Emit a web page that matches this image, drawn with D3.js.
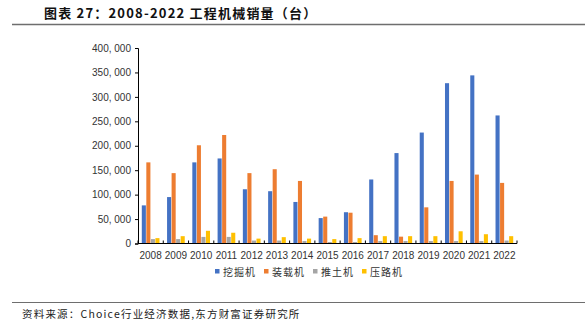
<!DOCTYPE html>
<html>
<head>
<meta charset="utf-8">
<script src="https://cdn.jsdelivr.net/npm/d3@7/dist/d3.min.js"></script>
<style>
  html, body { margin: 0; padding: 0; background: #fff; }
  svg { display: block; }
</style>
</head>
<body>
<svg id="chart" width="585" height="324"></svg>
<script>
// Annual sales of construction machinery, units
const years = ["2008","2009","2010","2011","2012","2013","2014","2015","2016","2017","2018","2019","2020","2021","2022"];
const seriesNames = ["挖掘机", "装载机", "推土机", "压路机"];
const excavator = [78000, 95000, 166000, 174000, 111000, 107000, 85000, 52000, 64000, 131000, 185000, 227000, 328000, 344000, 262000];
const loader    = [166000, 144000, 201000, 222000, 144000, 152000, 128000, 55000, 63000, 17000, 14000, 74000, 128000, 141000, 124000];
const dozer     = [9000, 9000, 13500, 13500, 6000, 6000, 5000, 3000, 3000, 5000, 5000, 5000, 5000, 5000, 6000];
const roller    = [11000, 15000, 26000, 22000, 10000, 13000, 10000, 9000, 11000, 15000, 15000, 15000, 25000, 19000, 15000];
const yTicks = [0, 50000, 100000, 150000, 200000, 250000, 300000, 350000, 400000];
const colors = ["#4472C4", "#ED7D31", "#A5A5A5", "#FFC000"];

const seriesValues = [excavator, loader, dozer, roller];
const rows = years.map((yr, i) => ({ year: yr, values: seriesValues.map(s => s[i]) }));

const svg = d3.select("#chart");
const cjk = "'Noto Sans CJK SC', 'Noto Sans', sans-serif";
const latin = "'Liberation Sans', Arial, sans-serif";

// Header
svg.append("text")
  .attr("x", 44).attr("y", 18)
  .attr("font-family", cjk).attr("font-size", 13).attr("font-weight", "bold")
  .attr("letter-spacing", 1.2)
  .attr("fill", "#111")
  .text("图表 27：2008-2022 工程机械销量（台）");
svg.append("line")
  .attr("x1", 12).attr("x2", 585).attr("y1", 24.5).attr("y2", 24.5)
  .attr("stroke", "#6e6e6e").attr("stroke-width", 1.5);

// Plot area
const plotLeft = 138, plotRight = 517, plotTop = 48, plotBottom = 243.5;

const x = d3.scaleBand().domain(years).range([plotLeft, plotRight])
  .paddingInner(0.3).paddingOuter(0.15);
const xs = d3.scaleBand().domain(d3.range(seriesNames.length))
  .range([0, x.bandwidth()]).paddingInner(0.1);
const y = d3.scaleLinear().domain([0, 400000]).range([plotBottom, plotTop]);

// Bars
const g = svg.append("g");
g.selectAll("g.year").data(rows).join("g")
  .attr("class", "year")
  .attr("transform", d => `translate(${x(d.year)},0)`)
  .selectAll("rect").data(d => d.values).join("rect")
  .attr("x", (v, i) => xs(i))
  .attr("width", xs.bandwidth())
  .attr("y", v => y(v))
  .attr("height", v => plotBottom - y(v))
  .attr("fill", (v, i) => colors[i]);

// Y axis
const fmt = v => d3.format(",")(v).replace(/,/g, ", ");
const yAxis = svg.append("g")
  .attr("transform", `translate(${plotLeft},0)`)
  .call(d3.axisLeft(y).tickValues(yTicks).tickFormat(fmt).tickSizeOuter(0).tickSize(3));
yAxis.select(".domain").attr("stroke", "#000");
yAxis.selectAll(".tick line").attr("stroke", "#000");
yAxis.selectAll(".tick text")
  .attr("font-family", latin).attr("font-size", 10).attr("fill", "#333").attr("x", -7);

// X axis line and category separators
svg.append("line")
  .attr("x1", plotLeft).attr("x2", plotRight).attr("y1", plotBottom).attr("y2", plotBottom)
  .attr("stroke", "#000").attr("stroke-width", 1);
const step = x.step();
const boundaries = d3.range(years.length + 1).map(i => x(years[0]) - x.paddingOuter() * step + i * step);
svg.append("g").selectAll("line").data(boundaries).join("line")
  .attr("x1", d => d).attr("x2", d => d)
  .attr("y1", plotBottom - 3).attr("y2", plotBottom)
  .attr("stroke", "#000").attr("stroke-width", 1);
svg.append("g").selectAll("text").data(years).join("text")
  .attr("x", d => x(d) + x.bandwidth() / 2)
  .attr("y", 259)
  .attr("text-anchor", "middle")
  .attr("font-family", latin).attr("font-size", 10).attr("fill", "#333")
  .text(d => d);

// Legend
const legend = svg.append("g").selectAll("g").data(seriesNames).join("g")
  .attr("transform", (d, i) => `translate(${215 + i * 49},273)`);
legend.append("rect")
  .attr("x", 0).attr("y", -4).attr("width", 4.5).attr("height", 4.5)
  .attr("fill", (d, i) => colors[i]);
legend.append("text")
  .attr("x", 8).attr("y", 3)
  .attr("font-family", cjk).attr("font-size", 10).attr("letter-spacing", 1)
  .attr("fill", "#333")
  .text(d => d);

// Footer
svg.append("line")
  .attr("x1", 12).attr("x2", 585).attr("y1", 302.5).attr("y2", 302.5)
  .attr("stroke", "#6e6e6e").attr("stroke-width", 1);
svg.append("text")
  .attr("x", 22).attr("y", 318)
  .attr("font-family", cjk).attr("font-size", 10.5).attr("letter-spacing", 1.2)
  .attr("fill", "#222")
  .text("资料来源：Choice行业经济数据,东方财富证券研究所");
</script>
</body>
</html>
